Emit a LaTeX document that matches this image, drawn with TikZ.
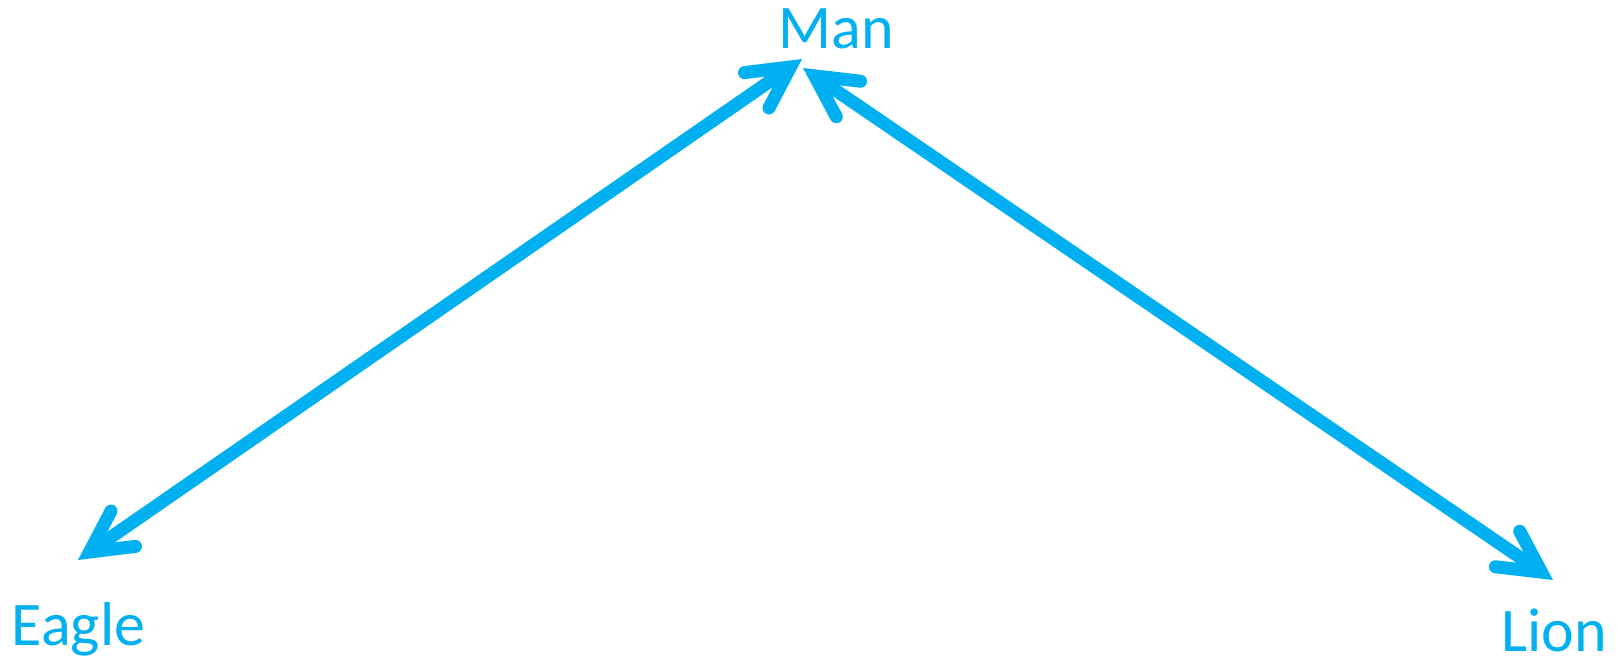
\documentclass[tikz,border=0pt]{standalone}
\usepackage{fontspec}
\setmainfont{Carlito}
\usepackage{xcolor}
\usepackage{tikz}
\usetikzlibrary{arrows.meta}

\definecolor{skyblue}{HTML}{00B0F0}

\begin{document}
\begin{tikzpicture}[x=1pt, y=-1pt, <->, >={Straight Barb[length=41pt, width=43pt, line cap=round, line join=miter]}, line width=13pt]

    \tikzstyle{every node}=[text=skyblue, font=\fontsize{62}{74}\selectfont, anchor=base, inner sep=0pt, text depth=0pt]
    \tikzstyle{link}=[draw=skyblue]

    \useasboundingbox (0,0) rectangle (1618,660);

    \node (man)   at (836,49)   {Man};
    \node (eagle) at (78.5,645) {Eagle};
    \node (lion)  at (1554,651) {Lion};

    \coordinate (eagle tip) at (78,560);
    \coordinate (man left)  at (802,59);
    \coordinate (man right) at (803,68);
    \coordinate (lion tip)  at (1553,580);

    \path[link] (eagle tip) -- (man left);
    \path[link] (man right) -- (lion tip);
\end{tikzpicture}
\end{document}
